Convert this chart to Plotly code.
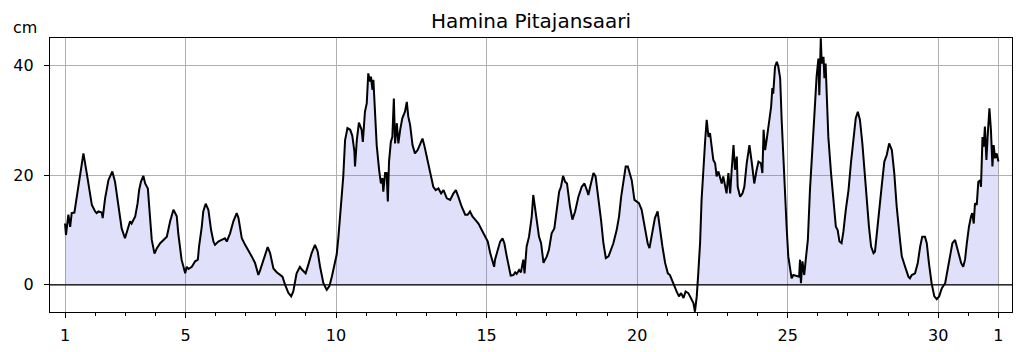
import plotly.graph_objects as go

title_text = "Hamina Pitajansaari"
y_unit = "cm"

# time in days of month (1.0 = 1st, 00:00; 32.0 = 1st of next month)
day = [
    1.00, 1.03, 1.11, 1.17, 1.22, 1.31, 1.44, 1.61, 1.72, 1.78, 1.89, 2.00, 2.05, 2.11, 2.22, 2.25,
    2.33, 2.44, 2.57, 2.66, 2.77, 2.88, 2.99, 3.05, 3.16, 3.21, 3.33, 3.41, 3.46, 3.52, 3.60, 3.66,
    3.75, 3.82, 3.88, 3.97, 4.05, 4.16, 4.27, 4.38, 4.49, 4.60, 4.71,
    4.76, 4.87, 4.99, 5.04, 5.10, 5.21, 5.32, 5.41, 5.45, 5.54, 5.59, 5.67, 5.76, 5.85, 5.93, 5.98,
    6.09, 6.20, 6.31, 6.37, 6.48, 6.59, 6.70, 6.76, 6.87, 6.98, 7.09, 7.20, 7.31, 7.42, 7.48, 7.59,
    7.73, 7.81, 7.92, 8.03, 8.14, 8.22, 8.31, 8.42, 8.51, 8.58, 8.69, 8.80,
    8.88, 8.99, 9.08, 9.19, 9.30, 9.39, 9.47, 9.58, 9.69, 9.78, 9.86, 9.97, 10.02, 10.08, 10.17,
    10.24, 10.30, 10.38, 10.47, 10.54, 10.61, 10.63, 10.69, 10.76, 10.85, 10.89, 10.96, 11.02,
    11.07, 11.13, 11.16, 11.21, 11.24, 11.30, 11.35, 11.43, 11.49, 11.54, 11.57, 11.63, 11.68,
    11.72, 11.76, 11.82, 11.87, 11.92, 11.96, 12.02, 12.07, 12.13, 12.20, 12.29, 12.35, 12.40,
    12.46, 12.54, 12.62, 12.71, 12.79,
    12.87, 12.93, 13.01, 13.12, 13.23, 13.31, 13.40, 13.49, 13.57, 13.68, 13.79, 13.90, 13.98,
    14.06, 14.17, 14.29, 14.37, 14.45, 14.53, 14.62, 14.73, 14.84, 14.95, 15.04, 15.12, 15.17,
    15.25, 15.28, 15.37, 15.45, 15.53, 15.59, 15.67, 15.75, 15.80, 15.89, 15.95, 16.00, 16.08,
    16.14, 16.22, 16.26, 16.33, 16.41, 16.50, 16.55, 16.63, 16.72,
    16.74, 16.81, 16.89, 16.94, 17.00, 17.07, 17.16, 17.25, 17.33, 17.41, 17.47, 17.54, 17.61,
    17.67, 17.77, 17.85, 17.94, 18.05, 18.16, 18.25, 18.33, 18.38, 18.44, 18.55, 18.62, 18.71,
    18.80, 18.88, 18.96, 19.05, 19.13, 19.21, 19.32, 19.40, 19.47, 19.54, 19.62, 19.69, 19.76,
    19.82, 19.91, 19.99, 20.06, 20.15, 20.26, 20.35, 20.41, 20.48, 20.59, 20.68,
    20.76, 20.84, 20.93, 21.02, 21.09, 21.17, 21.24, 21.31, 21.39, 21.46, 21.54, 21.61, 21.70,
    21.79, 21.87, 21.92, 21.98, 22.03, 22.09, 22.14, 22.20, 22.26, 22.31, 22.37, 22.42, 22.48,
    22.53, 22.59, 22.64, 22.70, 22.75, 22.81, 22.86, 22.92, 22.97, 23.03, 23.09, 23.14, 23.20,
    23.25, 23.31, 23.34, 23.42, 23.50, 23.56, 23.64, 23.73, 23.81, 23.89, 23.97, 24.03, 24.11,
    24.16, 24.20, 24.25, 24.30, 24.38, 24.45, 24.49, 24.52, 24.58, 24.64, 24.69, 24.75,
    24.80, 24.86, 24.91, 24.97, 25.02, 25.08, 25.13, 25.19, 25.30, 25.38, 25.41, 25.44, 25.49,
    25.55, 25.60, 25.67, 25.74, 25.82, 25.89, 25.96, 26.02, 26.05, 26.10, 26.13, 26.19, 26.22,
    26.26, 26.30, 26.35, 26.44, 26.52, 26.60, 26.66, 26.72, 26.79, 26.85, 26.93, 27.02, 27.10,
    27.18, 27.26, 27.33, 27.40, 27.48, 27.55, 27.62, 27.70, 27.77, 27.85, 27.90, 27.96, 28.03,
    28.12, 28.21, 28.29, 28.37, 28.46, 28.54, 28.62, 28.73,
    28.79, 28.90, 29.01, 29.06, 29.12, 29.23, 29.32, 29.40, 29.47, 29.56, 29.62, 29.69, 29.78,
    29.87, 29.95, 30.03, 30.12, 30.23, 30.31, 30.39, 30.47, 30.56, 30.61, 30.69, 30.76, 30.83,
    30.89, 30.95, 31.02, 31.09, 31.13, 31.18, 31.22, 31.28, 31.33, 31.39, 31.42, 31.47, 31.51,
    31.55, 31.60, 31.64, 31.70, 31.75, 31.80, 31.84, 31.89, 31.94, 32.00,
]

level_cm = [
    11.2, 9.1, 12.8, 10.6, 13.1, 13.2, 17.9, 24.0, 20.4, 18.5, 14.6, 13.4, 13.1, 13.4, 13.2, 12.2,
    15.8, 19.1, 20.7, 18.8, 14.3, 10.3, 8.5, 9.7, 11.6, 11.2, 12.5, 14.9, 17.3, 18.8, 19.9, 18.5,
    17.6, 12.5, 8.2, 5.7, 6.7, 7.6, 8.2, 8.8, 11.6, 13.7, 12.5,
    9.4, 4.6, 2.1, 3.3, 2.9, 3.3, 4.3, 4.6, 7.0, 10.6, 13.4, 14.8, 13.7, 10.0, 7.9, 7.3,
    7.9, 8.2, 8.5, 7.9, 9.4, 11.6, 13.1, 12.2, 8.5, 7.3, 6.1, 5.2, 4.0, 1.8, 2.7, 4.6,
    6.9, 5.8, 3.0, 2.3, 1.8, 1.5, 0.0, -1.5, -2.1, -1.2, 2.1, 3.3,
    2.7, 2.1, 3.7, 5.8, 7.3, 6.1, 3.3, 0.3, -0.9, -0.2, 1.5, 4.0, 5.5, 8.8, 14.9,
    19.8, 26.4, 28.6, 28.3, 27.2, 24.3, 21.6, 26.4, 29.6, 28.3, 26.1, 31.6, 33.1,
    38.6, 37.1, 38.0, 35.6, 37.4, 30.7, 25.5, 21.0, 18.5, 19.5, 17.0, 20.4, 20.4,
    15.2, 22.5, 26.1, 27.0, 34.0, 25.8, 29.5, 25.8, 28.3, 30.4, 31.6, 33.4, 30.7,
    29.2, 25.5, 24.0, 24.6, 25.5,
    26.7, 25.5, 23.4, 20.4, 17.9, 17.3, 17.6, 16.7, 17.3, 15.8, 15.5, 16.7, 17.3,
    16.1, 14.3, 12.8, 12.8, 13.4, 12.5, 11.9, 11.2, 10.0, 8.8, 7.9, 5.8, 4.9,
    3.3, 4.6, 6.4, 7.9, 8.5, 7.6, 5.2, 2.7, 1.7, 1.8, 2.3, 2.0, 2.7,
    2.3, 4.6, 2.1, 7.0, 8.8, 12.5, 16.4, 13.4, 10.0,
    8.8, 7.6, 4.0, 4.6, 5.2, 6.4, 9.4, 10.3, 13.4, 17.0, 17.9, 19.9, 18.8,
    18.5, 14.3, 11.9, 13.4, 16.1, 17.9, 18.5, 17.3, 16.4, 17.9, 20.4, 19.8, 16.1,
    11.9, 7.6, 4.9, 5.2, 6.4, 7.6, 10.0, 12.5, 16.1, 18.8, 21.6, 21.6, 20.1,
    19.1, 15.5, 15.2, 14.9, 13.7, 10.0, 7.6, 6.7, 8.8, 12.2, 13.4,
    10.0, 7.0, 4.0, 2.1, 1.8, 0.6, -0.3, -1.2, -2.1, -1.5, -2.4, -1.2, -1.5,
    -2.4, -3.3, -4.9, -2.1, 2.1, 7.6, 15.5, 21.6, 26.4, 30.1, 27.0, 27.7, 25.2,
    22.8, 22.2, 19.8, 20.7, 19.8, 18.5, 19.8, 17.9, 16.7, 20.4, 16.7, 21.0, 25.5,
    21.0, 23.4, 17.9, 16.1, 16.7, 17.9, 22.2, 25.5, 22.2, 18.5, 21.0, 22.5, 22.2,
    20.4, 28.3, 24.6, 26.4, 30.1, 32.5, 35.9, 34.9, 39.8, 40.7, 39.8, 37.7,
    30.1, 22.2, 14.9, 10.0, 5.2, 2.4, 1.2, 1.8, 1.6, 1.5, 4.6, 0.3, 4.3,
    1.8, 4.6, 8.2, 17.3, 25.8, 31.3, 38.0, 41.3, 34.6, 45.0, 40.4, 41.6, 37.7,
    40.4, 34.3, 27.0, 20.4, 14.9, 10.6, 10.0, 7.9, 7.6, 9.7, 13.7, 17.3, 22.2,
    27.0, 30.4, 31.6, 30.1, 25.8, 20.4, 14.9, 10.6, 7.0, 5.8, 6.1, 9.7, 13.7,
    17.9, 22.5, 23.7, 25.8, 24.6, 20.4, 14.3, 8.2,
    5.2, 3.3, 1.5, 1.2, 1.8, 2.1, 4.0, 7.0, 8.8, 8.8, 7.6, 4.0, 0.3,
    -2.1, -2.6, -2.1, -0.6, 0.3, 2.7, 5.2, 7.6, 8.2, 7.0, 5.2, 4.0, 3.3,
    4.6, 7.6, 10.6, 12.5, 13.1, 11.2, 14.9, 14.6, 18.8, 19.1, 17.9, 27.0, 25.2,
    28.9, 22.8, 27.0, 32.2, 28.3, 21.6, 25.5, 23.1, 24.0, 22.5,
]

tick_days = [1, 5, 10, 15, 20, 25, 30, 32]
tick_labels = ["1", "5", "10", "15", "20", "25", "30", "1"]
y_ticks = [0, 20, 40]

FONT = "DejaVu Sans"

fill_vals = [max(v, 0.0) for v in level_cm]

fig = go.Figure()
fig.add_trace(go.Scatter(
    x=day, y=fill_vals, mode="lines", line=dict(width=0),
    fill="tozeroy", fillcolor="rgba(100,100,230,0.2)",
    hoverinfo="skip", showlegend=False,
))
fig.add_trace(go.Scatter(
    x=day, y=level_cm, mode="lines",
    line=dict(color="black", width=2),
    showlegend=False,
))

fig.add_shape(type="line", xref="paper", x0=0, x1=1, yref="y", y0=0, y1=0,
              line=dict(color="black", width=1.2), layer="above")

fig.update_layout(
    width=1024, height=352,
    margin=dict(l=50, r=12, t=38, b=40),
    paper_bgcolor="white", plot_bgcolor="white",
    font=dict(family=FONT, size=16, color="black"),
    title=dict(text=title_text, x=0.5, xref="paper", xanchor="center",
               y=1 - 21 / 352, yref="container", yanchor="middle",
               font=dict(family=FONT, size=20, color="black")),
    annotations=[dict(text=y_unit, xref="paper", yref="paper",
                      x=-0.026, y=1.04, xanchor="center", yanchor="middle",
                      showarrow=False, font=dict(family=FONT, size=16, color="black"))],
)

fig.update_xaxes(
    range=[0.5, 32.45], automargin=False,
    tickmode="array", tickvals=tick_days, ticktext=tick_labels,
    ticks="outside", ticklen=5, tickcolor="black", ticklabelstandoff=4,
    showgrid=True, gridcolor="#b0b0b0", gridwidth=1,
    showline=True, linecolor="black", linewidth=1.2, mirror=True,
    zeroline=False,
    minor=dict(tick0=1, dtick=1, ticks="outside", ticklen=3, tickcolor="black", showgrid=False),
)
fig.update_yaxes(
    range=[-4.95, 45.05], automargin=False,
    tickmode="array", tickvals=y_ticks,
    ticks="outside", ticklen=5, tickcolor="black", ticklabelstandoff=7,
    showgrid=True, gridcolor="#b0b0b0", gridwidth=1,
    showline=True, linecolor="black", linewidth=1.2, mirror=True,
    zeroline=False,
)

fig.write_html("out.html")
